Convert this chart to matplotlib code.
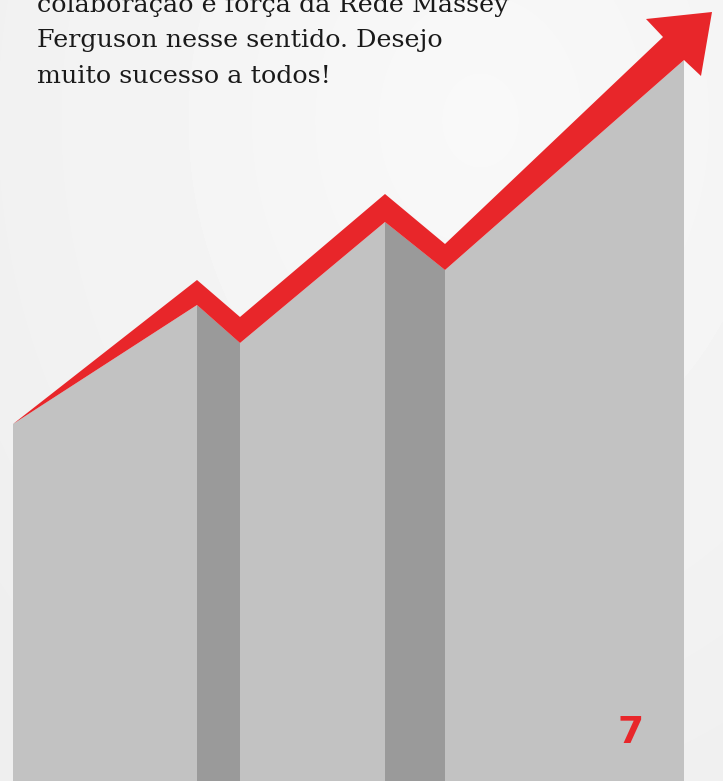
import numpy as np
import matplotlib.pyplot as plt
from matplotlib.patches import Polygon

# outline of the staircase (pixel coords, y down)
step_x = [13, 197, 240, 385, 445, 684]
step_top = [424, 305, 343, 222, 270, 60]
red_top = [424, 280, 317, 194, 244]
dark_strips = [(1, 2), (3, 4)]  # index pairs of step_x
head = [(663, 37), (646, 19), (712, 12), (701, 76), (684, 60)]

text_lines = ["colaboração e força da Rede Massey",
              "Ferguson nesse sentido. Desejo",
              "muito sucesso a todos!"]
page_no = "7"

W, H = 723, 781
fig = plt.figure(figsize=(W / 100, H / 100), dpi=100)
ax = fig.add_axes([0, 0, 1, 1])
ax.set_xlim(0, W)
ax.set_ylim(H, 0)
ax.axis("off")

# soft background gradient
yy, xx = np.mgrid[0:H, 0:W]
d = np.sqrt(((xx - 480) / 650) ** 2 + ((yy - 120) / 800) ** 2)
bg = 0.975 - 0.04 * np.clip(d, 0, 1)
ax.imshow(bg, cmap="gray", vmin=0, vmax=1, extent=(0, W, H, 0), zorder=0)

# light gray body
body = [(step_x[0], H)] + list(zip(step_x, step_top)) + [(step_x[-1], H)]
ax.add_patch(Polygon(body, closed=True, facecolor="#c2c2c2", edgecolor="none", zorder=1))

# darker strips
for i, j in dark_strips:
    strip = [(step_x[i], H), (step_x[i], step_top[i]), (step_x[j], step_top[j]), (step_x[j], H)]
    ax.add_patch(Polygon(strip, closed=True, facecolor="#9a9a9a", edgecolor="none", zorder=2))

# red arrow
upper = list(zip(step_x[:5], red_top))
lower = list(zip(step_x[1:5], step_top[1:5]))[::-1]
arrow = upper + head + lower
ax.add_patch(Polygon(arrow, closed=True, facecolor="#e8262a", edgecolor="none", zorder=3))

for k, line in enumerate(text_lines):
    ax.text(37, 12 + 35.5 * k, line, family="DejaVu Serif", fontsize=18.3,
            color="#1a1a1a", va="baseline", ha="left", zorder=4)

ax.text(631, 743, page_no, family="DejaVu Sans", fontweight="bold", fontsize=27,
        color="#e8262a", va="baseline", ha="center", zorder=4)

fig.savefig("out.png", dpi=100)
